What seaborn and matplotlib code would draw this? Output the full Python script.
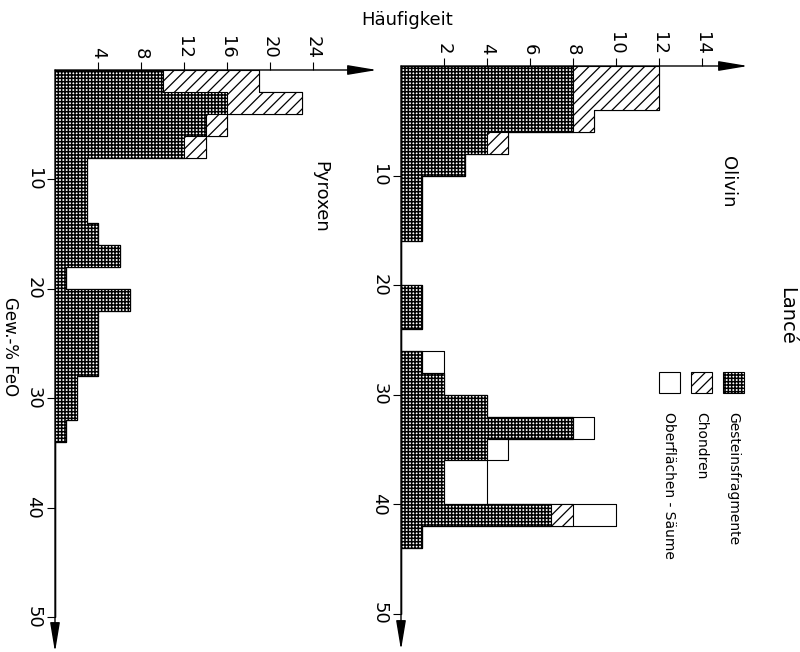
import numpy as np
import pandas as pd
import matplotlib
matplotlib.use('Agg')
import matplotlib.pyplot as plt
from matplotlib.patches import Rectangle
import seaborn as sns

sns.set_style('ticks')
plt.rcParams['font.family'] = ['DejaVu Sans']
plt.rcParams['hatch.linewidth'] = 1.0
for k in ['text.color', 'xtick.color', 'ytick.color', 'xtick.labelcolor', 'ytick.labelcolor']:
    plt.rcParams[k] = 'black'

# Klassen 2 Gew.-% FeO breit, 0 bis 50
bins = np.arange(0, 51, 2)
feo = bins[:-1] + 1

# Olivin - Haeufigkeit je Klasse
oliv_gestein  = [8, 8, 8, 4, 3, 1, 1, 1, 0, 0, 1, 1, 0, 1, 2, 4, 8, 4, 2, 2, 7, 1, 0, 0, 0]
oliv_chondren = [4, 4, 1, 1, 0, 0, 0, 0, 0, 0, 0, 0, 0, 0, 0, 0, 0, 0, 0, 0, 1, 0, 0, 0, 0]
oliv_saeume   = [0, 0, 0, 0, 0, 0, 0, 0, 0, 0, 0, 0, 0, 1, 0, 0, 1, 1, 2, 2, 2, 0, 0, 0, 0]

# Pyroxen - Haeufigkeit je Klasse
pyr_gestein  = [10, 16, 14, 12, 3, 3, 3, 4, 6, 1, 7, 4, 4, 4, 2, 2, 1, 0, 0, 0, 0, 0, 0, 0, 0]
pyr_chondren = [9, 7, 2, 2, 0, 0, 0, 0, 0, 0, 0, 0, 0, 0, 0, 0, 0, 0, 0, 0, 0, 0, 0, 0, 0]
pyr_saeume   = [0, 0, 0, 0, 0, 0, 0, 0, 0, 0, 0, 0, 0, 0, 0, 0, 0, 0, 0, 0, 0, 0, 0, 0, 0]

feo_ticks = [10, 20, 30, 40, 50]
oliv_ticks = [2, 4, 6, 8, 10, 12, 14]
pyr_ticks = [4, 8, 12, 16, 20, 24]

legend_labels = ['Gesteinsfragmente', 'Chondren', 'Oberflächen - Säume']
HATCH_G = '+++++'
HATCH_C = '///'
HATCH_LW = {None: 1.0, HATCH_C: 0.9, HATCH_G: 1.1}

arrow = dict(arrowstyle='-|>,head_length=0.9,head_width=0.15', mutation_scale=20,
             lw=1.0, color='black', shrinkA=0, shrinkB=0)


def set_hlw(artist, hatch):
    if hasattr(artist, 'set_hatch_linewidth'):
        artist.set_hatch_linewidth(HATCH_LW[hatch])


def panel(ax, gestein, chondren, saeume, xmax, ymax, xticks, name, name_pos):
    df = pd.DataFrame({'feo': feo, 'g': gestein, 'c': chondren, 's': saeume})
    df['gc'] = df['g'] + df['c']
    df['gcs'] = df['gc'] + df['s']
    # gestapelt: Summe zuerst, darueber die kleineren Anteile
    for col, hatch in [('gcs', None), ('gc', HATCH_C), ('g', HATCH_G)]:
        n = len(ax.collections)
        sns.histplot(data=df, y='feo', weights=col, binwidth=2, binrange=(0, 50),
                     element='step', fill=True, facecolor='white', edgecolor='black',
                     linewidth=0.8, hatch=hatch, alpha=1, ax=ax)
        for c in ax.collections[n:]:
            set_hlw(c, hatch)
    ax.set_xlim(0, xmax)
    ax.set_ylim(ymax, 0)
    ax.xaxis.tick_top()
    ax.set_xticks(xticks, [str(v) for v in xticks], rotation=-90, fontsize=13)
    ax.set_yticks(feo_ticks, [str(v) for v in feo_ticks], rotation=-90, va='center', fontsize=13)
    ax.tick_params(axis='x', top=True, bottom=False, labeltop=True, labelbottom=False,
                   direction='out', length=6, width=0.8, pad=2)
    ax.tick_params(axis='y', direction='out', length=6, width=0.8, pad=3)
    ax.set_xlabel('')
    ax.set_ylabel('')
    for s in ax.spines.values():
        s.set_visible(False)
    ax.patch.set_alpha(0)
    ax.annotate('', xy=(1, 1), xytext=(0, 1), xycoords='axes fraction', arrowprops=arrow)
    ax.annotate('', xy=(0, 0), xytext=(0, 1), xycoords='axes fraction', arrowprops=arrow)
    ax.text(name_pos[0], name_pos[1], name, transform=ax.transAxes, rotation=-90,
            ha='center', va='center', fontsize=13)


W, H = 800, 652
fig = plt.figure(figsize=(8, 6.52), dpi=100)

ax_p = fig.add_axes([55 / W, 0.0, (377 - 55) / W, (652 - 70) / H])
ax_o = fig.add_axes([401 / W, 1 - 650 / H, (748 - 401) / W, (650 - 66) / H])

panel(ax_p, pyr_gestein, pyr_chondren, pyr_saeume, 29.95, 53.2, pyr_ticks,
      'Pyroxen', ((320 - 55) / 322, 1 - (197 - 70) / 582))
panel(ax_o, oliv_gestein, oliv_chondren, oliv_saeume, 16.14, 53.3, oliv_ticks,
      'Olivin', ((728 - 401) / 347, 1 - (182 - 66) / 584))

fig.text(407 / W, 1 - 20 / H, 'Häufigkeit', ha='center', va='center', fontsize=13)
fig.text(9.5 / W, 1 - 347 / H, 'Gew.-% FeO', rotation=-90, ha='center', va='center', fontsize=12)
fig.text(787 / W, 1 - 316 / H, 'Lancé', rotation=-90, ha='center', va='center', fontsize=14)

# Legende
for lab, hatch, xc in zip(legend_labels, [HATCH_G, HATCH_C, None], [733, 701, 669]):
    r = Rectangle(((xc - 10.5) / W, 1 - 393 / H), 21 / W, 21 / H,
                  transform=fig.transFigure, facecolor='white',
                  edgecolor='black', linewidth=0.8, hatch=hatch)
    set_hlw(r, hatch)
    fig.add_artist(r)
    fig.text(xc / W, 1 - 412 / H, lab, rotation=-90, ha='center', va='top', fontsize=10)

fig.savefig('out.png', dpi=100)
